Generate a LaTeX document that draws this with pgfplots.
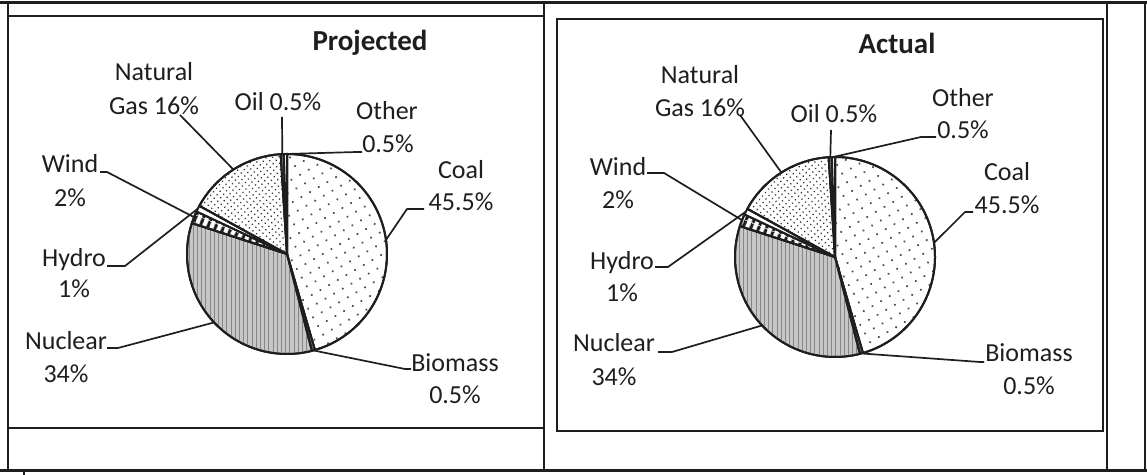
\documentclass[border=0pt]{standalone}
\usepackage{pgfplots}
\pgfplotsset{compat=1.18}
\usepackage{pgfplotstable}
\usepgfplotslibrary{polar}
\usetikzlibrary{patterns.meta}
\usepackage{fontspec}
\setmainfont{Carlito}

\definecolor{ink}{HTML}{1E1E1E}

\pgfplotstableread{
source value
Coal 45.5
Biomass 0.5
Nuclear 34
Wind 2
Hydro 1
Gas 16
Oil 0.5
Other 0.5
}\projected

\pgfplotstableread{
source value
Coal 45.5
Biomass 0.5
Nuclear 34
Wind 2
Hydro 1
Gas 16
Oil 0.5
Other 0.5
}\actual

\newcommand{\getv}[3]{\pgfplotstablegetelem{#2}{value}\of#1\let#3\pgfplotsretval}

\pgfplotsset{
  wedge/.style={draw=ink, line width=1bp, line join=round},
  coalfill/.style={fill=white, postaction={pattern={Dots[distance=5bp,radius=0.6bp,angle=30]}, pattern color=black!70}},
  biofill/.style={fill=black!55},
  nucfill/.style={fill=black!22, postaction={pattern={Lines[angle=90,distance=2.1bp,line width=0.35bp]}, pattern color=black!48}},
  windfill/.style={fill=white, postaction={pattern={Lines[angle=68,distance=3.6bp,line width=1.7bp]}, pattern color=ink}},
  hydrofill/.style={fill=white},
  gasfill/.style={fill=white, postaction={pattern={Dots[distance=2.3bp,radius=0.45bp,angle=50]}, pattern color=black!80}},
  oilfill/.style={fill=black!55},
  otherfill/.style={fill=white},
}

\newcommand{\drawpie}[4]{%
  \getv{#1}{0}\vA \getv{#1}{1}\vB \getv{#1}{2}\vC \getv{#1}{3}\vD
  \getv{#1}{4}\vE \getv{#1}{5}\vF \getv{#1}{6}\vG \getv{#1}{7}\vH
  \pgfmathsetmacro\aO{90}
  \pgfmathsetmacro\aA{\aO-3.6*\vA}
  \pgfmathsetmacro\aB{\aA-3.6*\vB}
  \pgfmathsetmacro\aC{\aB-3.6*\vC}
  \pgfmathsetmacro\aD{\aC-3.6*\vD}
  \pgfmathsetmacro\aE{\aD-3.6*\vE}
  \pgfmathsetmacro\aF{\aE-3.6*\vF}
  \pgfmathsetmacro\aG{\aF-3.6*\vG}
  \pgfmathsetmacro\aH{\aG-3.6*\vH}
  \pgfmathsetmacro\mA{(\aO+\aA)/2}
  \pgfmathsetmacro\mB{(\aA+\aB)/2}
  \pgfmathsetmacro\mC{(\aB+\aC)/2}
  \pgfmathsetmacro\mD{(\aC+\aD)/2}
  \pgfmathsetmacro\mE{(\aD+\aE)/2}
  \pgfmathsetmacro\mF{(\aE+\aF)/2}
  \pgfmathsetmacro\mG{(\aF+\aG)/2}
  \pgfmathsetmacro\mH{(\aG+\aH)/2}
  \begin{polaraxis}[hide axis, scale only axis, width=100bp, height=100bp,
      xmin=0, xmax=360, ymin=0, ymax=1, at={(#2,#3)}, anchor=center,
      samples=90, clip=false]
    \addplot[wedge, coalfill,  domain=\aA:\aO] {1} -- (axis cs:0,0) -- cycle;
    \addplot[wedge, biofill,   domain=\aB:\aA] {1} -- (axis cs:0,0) -- cycle;
    \addplot[wedge, nucfill,   domain=\aC:\aB] {1} -- (axis cs:0,0) -- cycle;
    \addplot[wedge, windfill,  domain=\aD:\aC] {1} -- (axis cs:0,0) -- cycle;
    \addplot[wedge, hydrofill, domain=\aE:\aD] {1} -- (axis cs:0,0) -- cycle;
    \addplot[wedge, gasfill,   domain=\aF:\aE] {1} -- (axis cs:0,0) -- cycle;
    \addplot[wedge, oilfill,   domain=\aG:\aF] {1} -- (axis cs:0,0) -- cycle;
    \addplot[wedge, otherfill, domain=\aH:\aG] {1} -- (axis cs:0,0) -- cycle;
    \coordinate (#4coal)  at (axis cs:\mA,1);
    \coordinate (#4bio)   at (axis cs:\mB,1);
    \coordinate (#4nuc)   at (axis cs:\mC,1);
    \coordinate (#4wind)  at (axis cs:\mD,1);
    \coordinate (#4hydro) at (axis cs:\mE,1);
    \coordinate (#4gas)   at (axis cs:\mF,1);
    \coordinate (#4oil)   at (axis cs:\mG,1);
    \coordinate (#4other) at (axis cs:\mH,1);
  \end{polaraxis}%
}

\begin{document}
\begin{tikzpicture}[x=0.5bp, y=0.5bp,
  lbl/.style={anchor=base, inner sep=0pt, text=ink, font=\fontsize{13bp}{16bp}\selectfont},
  ttl/.style={anchor=base, inner sep=0pt, text=ink, font=\fontsize{14.5bp}{17bp}\selectfont\bfseries},
  leader/.style={draw=ink, line width=0.85bp, line join=round}]
\useasboundingbox (0,0) rectangle (1147,475);

% table frame
\draw[ink, line width=1.5bp] (0,472) -- (1147,472);
\draw[ink, line width=1.5bp] (0,4) -- (1147,4);
\draw[ink, line width=0.9bp] (8,472) -- (8,4);
\draw[ink, line width=0.9bp] (544,472) -- (544,4);
\draw[ink, line width=0.9bp] (1107,472) -- (1107,4);
\draw[ink, line width=0.9bp] (1145,472) -- (1145,4);
\draw[ink, line width=0.7bp] (8,459) -- (544,459);
\draw[ink, line width=0.9bp] (8,47) -- (544,47);
\draw[ink, line width=0.8bp] (557,456) rectangle (1103,44);
\draw[ink, line width=0.8bp] (24,4) -- (24,0);

% pies
\drawpie{\projected}{287}{221}{L}
\drawpie{\actual}{835}{218}{R}

% left labels
\node[ttl] at (370,424) {Projected};
\node[lbl] at (154,394) {Natural};
\node[lbl] at (154,360) {Gas 16\%};
\node[lbl] at (278,364) {Oil 0.5\%};
\node[lbl] at (387,355) {Other};
\node[lbl] at (388,322) {0.5\%};
\node[lbl] at (461,296) {Coal};
\node[lbl] at (461,264) {45.5\%};
\node[lbl] at (70,302) {Wind};
\node[lbl] at (70,268) {2\%};
\node[lbl] at (74,208) {Hydro};
\node[lbl] at (74,177) {1\%};
\node[lbl] at (66,125) {Nuclear};
\node[lbl] at (66,92) {34\%};
\node[lbl] at (455,103) {Biomass};
\node[lbl] at (455,71) {0.5\%};

% left leaders
\draw[leader] (180,360) -- (Lgas);
\draw[leader] (282,358) -- (Loil);
\draw[leader] (Lother) -- (357,323) -- (362,323);
\draw[leader] (Lcoal) -- (407,266) -- (424,266);
\draw[leader] (Lbio) -- (405,106) -- (411,106);
\draw[leader] (107,127) -- (118,127) -- (Lnuc);
\draw[leader] (107,209) -- (125,209) -- (Lhydro);
\draw[leader] (100,303) -- (107,303) -- (Lwind);

% right labels
\node[ttl] at (897,421) {Actual};
\node[lbl] at (700,391) {Natural};
\node[lbl] at (700,358) {Gas 16\%};
\node[lbl] at (834,352) {Oil 0.5\%};
\node[lbl] at (963,368) {Other};
\node[lbl] at (963,336) {0.5\%};
\node[lbl] at (1007,294) {Coal};
\node[lbl] at (1007,261) {45.5\%};
\node[lbl] at (618,299) {Wind};
\node[lbl] at (618,266) {2\%};
\node[lbl] at (622,205) {Hydro};
\node[lbl] at (622,173) {1\%};
\node[lbl] at (614,123) {Nuclear};
\node[lbl] at (614,89) {34\%};
\node[lbl] at (1029,113) {Biomass};
\node[lbl] at (1029,80) {0.5\%};

% right leaders
\draw[leader] (740,360) -- (Rgas);
\draw[leader] (831,345) -- (Roil);
\draw[leader] (Rother) -- (921,338) -- (936,338);
\draw[leader] (Rcoal) -- (965,263) -- (973,263);
\draw[leader] (Rbio) -- (980,113) -- (984,113);
\draw[leader] (658,123) -- (672,123) -- (Rnuc);
\draw[leader] (655,208) -- (668,208) -- (Rhydro);
\draw[leader] (647,302) -- (664,302) -- (Rwind);
\end{tikzpicture}
\end{document}
